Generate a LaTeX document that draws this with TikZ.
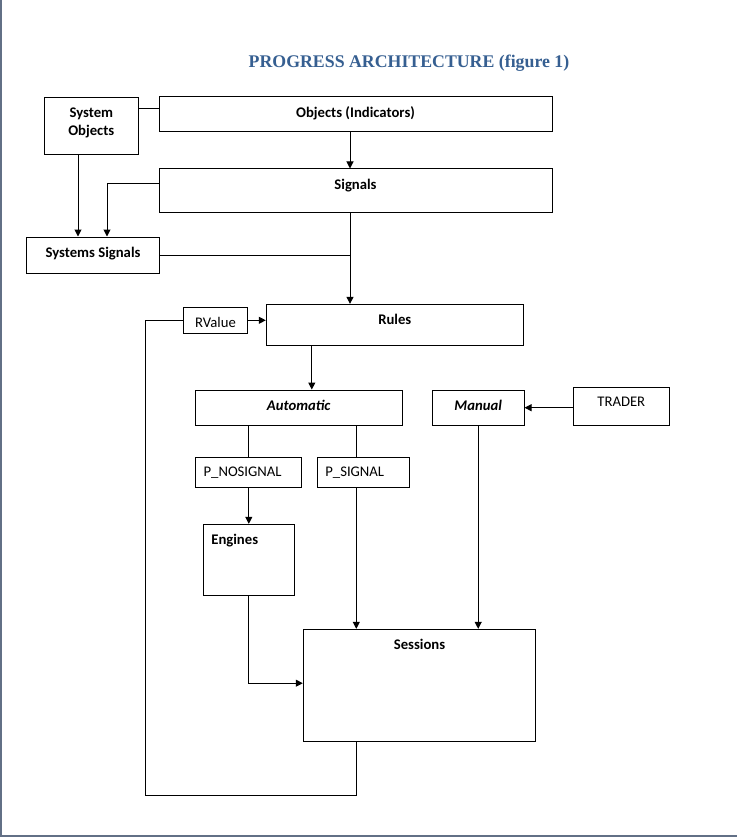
\documentclass[tikz,border=0pt]{standalone}
\usepackage{fontspec}
\setmainfont{Carlito}
\newfontfamily\headfont{Liberation Serif}
\usetikzlibrary{arrows.meta}
\definecolor{headblue}{RGB}{54,95,145}
\definecolor{edgeblue}{RGB}{98,112,134}
\def\boxfont{\fontsize{14.7}{18}\selectfont}
\tikzset{
	box/.style={draw, line width=1pt, inner sep=0pt},
	txt/.style={anchor=north, yshift=-7pt, font=\boxfont},
	txtl/.style={anchor=north west, yshift=-7pt, xshift=5pt, font=\boxfont},
	bold/.style={font=\boxfont\bfseries},
	bolditalic/.style={font=\boxfont\bfseries\itshape},
	wire/.style={line width=1pt},
	arr/.style={wire, -{Triangle[length=7pt,width=7pt]}}
}

\begin{document}
\begin{tikzpicture}[x=1pt, y=-1pt]
			\useasboundingbox (0,0) rectangle (737,837);
			%%%%% START %%%%%
			\draw[edgeblue, line width=2.2pt] (1,0) -- (1,836) -- (737,836);
			
			\node[headblue, font=\headfont\fontsize{17.8}{20}\selectfont\bfseries] (title) at (409,63) {PROGRESS ARCHITECTURE (figure 1)};
			
			\node[box, minimum width=94.5pt, minimum height=57pt, label={[txt,bold,align=center]north:System\\Objects}] (sysobj) at (91.3,126.5) {};
			\node[box, minimum width=393pt, minimum height=35pt, label={[txt,bold]north:Objects (Indicators)}] (obj) at (355.5,114.5) {};
			\node[box, minimum width=393pt, minimum height=43pt, label={[txt,bold]north:Signals}] (sig) at (355.5,190.5) {};
			\node[box, minimum width=132.6pt, minimum height=36pt, label={[txt,bold]north:Systems Signals}] (sysig) at (93,255) {};
			
			\node[box, minimum width=64.4pt, minimum height=26pt, label={[txt]north:RValue}] (rval) at (215.5,320.3) {};
			\node[box, minimum width=257pt, minimum height=40.7pt, label={[txt,bold]north:Rules}] (rules) at (394.8,324.7) {};
			
			\node[box, minimum width=206.7pt, minimum height=35.3pt, label={[txt,bolditalic]north:Automatic}] (auto) at (298.7,407.7) {};
			\node[box, minimum width=91.7pt, minimum height=35.3pt, label={[txt,bolditalic]north:Manual}] (manual) at (478.2,407.7) {};
			\node[box, minimum width=96pt, minimum height=38pt, label={[txt]north:TRADER}] (trader) at (621.3,406.3) {};
			
			\node[box, minimum width=105.5pt, minimum height=30.3pt, label={[txtl]north west:P\_NOSIGNAL}] (pnos) at (248.3,472.2) {};
			\node[box, minimum width=92pt, minimum height=30pt, label={[txtl]north west:P\_SIGNAL}] (psig) at (363.3,472.3) {};
			\node[box, minimum width=91pt, minimum height=70.7pt, label={[txtl,bold]north west:Engines}] (eng) at (248.8,559.7) {};
			\node[box, minimum width=232.4pt, minimum height=111.7pt, label={[txt,bold]north:Sessions}] (sess) at (419.5,685.2) {};
			
			\draw[wire] ([yshift=17.5pt]sysobj.east) coordinate (so) -- (so -| obj.west);
			\draw[arr] ([xshift=-5.5pt]obj.south) -- ([xshift=-5.5pt]sig.north);
			\draw[arr] ([xshift=-13.3pt]sysobj.south) -- ([xshift=-13.3pt]sysobj.south |- sysig.north);
			\draw[arr] ([yshift=7.2pt]sig.west) -| ([xshift=14pt]sysig.north);
			\draw[arr] ([xshift=-5.5pt]sig.south) coordinate (sd) -- (sd |- rules.north);
			\draw[wire] (sysig.east) -- (sysig.east -| sd);
			
			\draw[arr] (rval.east) -- (rval.east -| rules.west);
			\draw[arr] ([xshift=-83pt]rules.south) coordinate (rd) -- (rd |- auto.north);
			\draw[arr] (trader.west |- manual.east) -- (manual.east);
			
			\draw[wire] (pnos.north -| eng.north) -- (eng.north |- auto.south);
			\draw[arr] (pnos.south -| eng.north) -- (eng.north);
			\draw[wire] ([xshift=-7pt]psig.north) coordinate (pd) -- (pd |- auto.south);
			\draw[arr] ([xshift=-7pt]psig.south) -- ([xshift=-7pt]psig.south |- sess.north);
			\draw[arr] (manual.south) -- (manual.south |- sess.north);
			\draw[arr] (eng.south) |- ([yshift=2pt]sess.west);
			
			\coordinate (loop) at (145,795.3);
			\draw[wire] ([xshift=-63.2pt]sess.south) |- (loop) |- (rval.west);
			%%%%% END %%%%%
\end{tikzpicture}
\end{document}
